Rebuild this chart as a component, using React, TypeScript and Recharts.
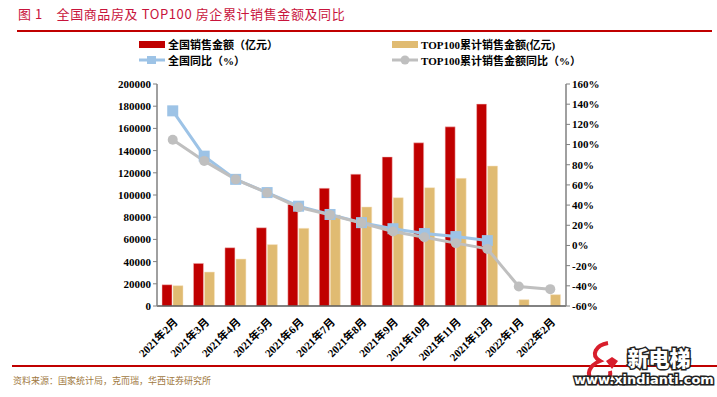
import { ComposedChart, Bar, Line, XAxis, YAxis } from 'recharts'

const months = [
  '2021年2月', '2021年3月', '2021年4月', '2021年5月', '2021年6月', '2021年7月', '2021年8月',
  '2021年9月', '2021年10月', '2021年11月', '2021年12月', '2022年1月', '2022年2月',
]
// 全国销售金额（亿元）
const nationalSales = [19150, 38400, 52500, 70500, 91500, 106100, 118800, 134300, 147000, 161400, 181900, null, null]
// TOP100累计销售金额(亿元)
const top100Sales = [18300, 30600, 42300, 55300, 70000, 82000, 89200, 97600, 106600, 115000, 126100, 5700, 10200]
// 全国同比（%）
const nationalYoy = [133.4, 88.5, 65.5, 52.4, 38.9, 30.7, 22.6, 16.6, 11.8, 8.8, 4.8, null, null]
// TOP100累计销售金额同比（%）
const top100Yoy = [104.7, 83.8, 65.5, 52.2, 37.8, 30.3, 22.2, 13.8, 8.2, 2.3, -3.4, -40.7, -43.3]

const leftTicks = [0, 20000, 40000, 60000, 80000, 100000, 120000, 140000, 160000, 180000, 200000]
const rightTicks = [-60, -40, -20, 0, 20, 40, 60, 80, 100, 120, 140, 160]

const data = months.map((m, i) => ({
  month: m,
  national: nationalSales[i],
  top100: top100Sales[i],
  nationalYoy: nationalYoy[i],
  top100Yoy: top100Yoy[i],
}))

const RED = '#C00000'
const TAN = '#E0BB72'
const BLUE = '#9DC3E6'
const GRAY = '#BFBFBF'
const FONT = '"Liberation Serif", "Noto Sans CJK SC", serif'

const XTick = (props: any) => {
  const { x, y, payload } = props
  return (
    <g transform={`translate(${x + 3},${y + 6})`}>
      <text transform="rotate(-45)" textAnchor="end" dy={4} fontSize={11} fontWeight="bold" fontFamily={FONT} fill="#000">
        {payload.value}
      </text>
    </g>
  )
}

const LegendBox = () => {
  const item = (swatch: any, label: string, left: number, top: number) => (
    <div style={{ position: 'absolute', left, top, display: 'flex', alignItems: 'center', whiteSpace: 'nowrap' }}>
      {swatch}
      <span style={{ marginLeft: 3, fontSize: 11, fontWeight: 'bold', fontFamily: FONT, color: '#000' }}>{label}</span>
    </div>
  )
  return (
    <div style={{ position: 'absolute', left: 0, top: 0, width: 717, height: 80 }}>
      {item(<div style={{ width: 26, height: 7, background: RED }} />, '全国销售金额（亿元）', 139, 36)}
      {item(<div style={{ width: 26, height: 7, background: TAN }} />, 'TOP100累计销售金额(亿元)', 392, 36)}
      {item(
        <svg width={26} height={10}>
          <line x1={0} y1={5} x2={26} y2={5} stroke={BLUE} strokeWidth={3} />
          <rect x={8} y={1} width={9} height={8} fill={BLUE} />
        </svg>,
        '全国同比（%）', 139, 52,
      )}
      {item(
        <svg width={26} height={10}>
          <line x1={0} y1={5} x2={26} y2={5} stroke={GRAY} strokeWidth={3} />
          <circle cx={13} cy={5} r={4.5} fill={GRAY} />
        </svg>,
        'TOP100累计销售金额同比（%）', 392, 52,
      )}
    </div>
  )
}

const SquareDot = (props: any) => {
  const { cx, cy } = props
  if (cx == null || cy == null) return null
  return <rect x={cx - 5.5} y={cy - 5.5} width={11} height={11} fill={BLUE} />
}

export default function App() {
  return (
    <div style={{ position: 'absolute', left: 0, top: 0, width: 717, height: 397, background: '#fff', overflow: 'hidden' }}>
      <div style={{ position: 'absolute', left: 18, top: 4, fontSize: 13, color: '#C8143C', fontFamily: '"Noto Sans CJK SC", sans-serif', whiteSpace: 'nowrap', letterSpacing: 0.6 }}>
        图 1　全国商品房及 TOP100 房企累计销售金额及同比
      </div>
      <div style={{ position: 'absolute', left: 17, top: 30, width: 695, height: 2, background: RED }} />
      <LegendBox />
      <ComposedChart
        width={717}
        height={397}
        data={data}
        margin={{ top: 84, right: 0, left: 0, bottom: 0 }}
        barGap={1}
        barCategoryGap="15%"
      >
        <XAxis
          dataKey="month"
          height={91}
          interval={0}
          tick={<XTick />}
          tickLine={false}
          axisLine={{ stroke: '#595959', strokeWidth: 1.5 }}
        />
        <YAxis
          yAxisId="left"
          width={157}
          domain={[0, 200000]}
          ticks={leftTicks}
          interval={0}
          tickSize={4}
          tick={{ fontSize: 11, fontWeight: 'bold', fontFamily: FONT, fill: '#000' }}
          axisLine={{ stroke: '#808080', strokeWidth: 1.5 }}
          tickLine={{ stroke: '#808080' }}
        />
        <YAxis
          yAxisId="right"
          orientation="right"
          width={151}
          domain={[-60, 160]}
          ticks={rightTicks}
          interval={0}
          tickSize={4}
          tickFormatter={(v: number) => `${v}%`}
          tick={{ fontSize: 11, fontWeight: 'bold', fontFamily: FONT, fill: '#000', textAnchor: 'start' }}
          axisLine={{ stroke: '#808080', strokeWidth: 1.5 }}
          tickLine={{ stroke: '#808080' }}
        />
        <Bar yAxisId="left" dataKey="national" name="全国销售金额（亿元）" fill={RED} stroke="#F4C6C6" strokeWidth={0.5} barSize={10} isAnimationActive={false} />
        <Bar yAxisId="left" dataKey="top100" name="TOP100累计销售金额(亿元)" fill={TAN} stroke="#F6E3C0" strokeWidth={0.5} barSize={10} isAnimationActive={false} />
        <Line yAxisId="right" dataKey="nationalYoy" name="全国同比（%）" stroke={BLUE} strokeWidth={3} dot={<SquareDot />} activeDot={false} isAnimationActive={false} />
        <Line yAxisId="right" dataKey="top100Yoy" name="TOP100累计销售金额同比（%）" stroke={GRAY} strokeWidth={3} dot={{ r: 5, fill: GRAY, stroke: GRAY, strokeWidth: 0 }} activeDot={false} isAnimationActive={false} />
      </ComposedChart>
      <div style={{ position: 'absolute', left: 12, top: 365, width: 705, height: 2, background: RED }} />
      <div style={{ position: 'absolute', left: 13, top: 374, fontSize: 9, color: '#A07840', fontFamily: '"Noto Sans CJK SC", sans-serif', whiteSpace: 'nowrap' }}>
        资料来源：国家统计局，克而瑞，华西证券研究所
      </div>
      <svg style={{ position: 'absolute', left: 560, top: 335 }} width={157} height={62}>
        <path d="M48 8 C36 10 30 20 40 26 C30 30 24 40 34 46 C42 50 52 44 50 36" fill="none" stroke="#D81E2C" strokeWidth={4} />
        <path d="M46 26 l6 -4 l6 4 l-6 8 z" fill="#D81E2C" />
        <text x={99} y={31} textAnchor="middle" fontSize={21} fontWeight="900" fontFamily='"Noto Sans CJK SC", sans-serif' fill="#fff" stroke="#222" strokeWidth={3} paintOrder="stroke">新电梯</text>
        <text x={84} y={49} textAnchor="middle" fontSize={13} fontWeight="bold" fontFamily='"DejaVu Sans", sans-serif' fill="#fff" stroke="#222" strokeWidth={3} paintOrder="stroke">www.xindianti.com</text>
      </svg>
    </div>
  )
}
